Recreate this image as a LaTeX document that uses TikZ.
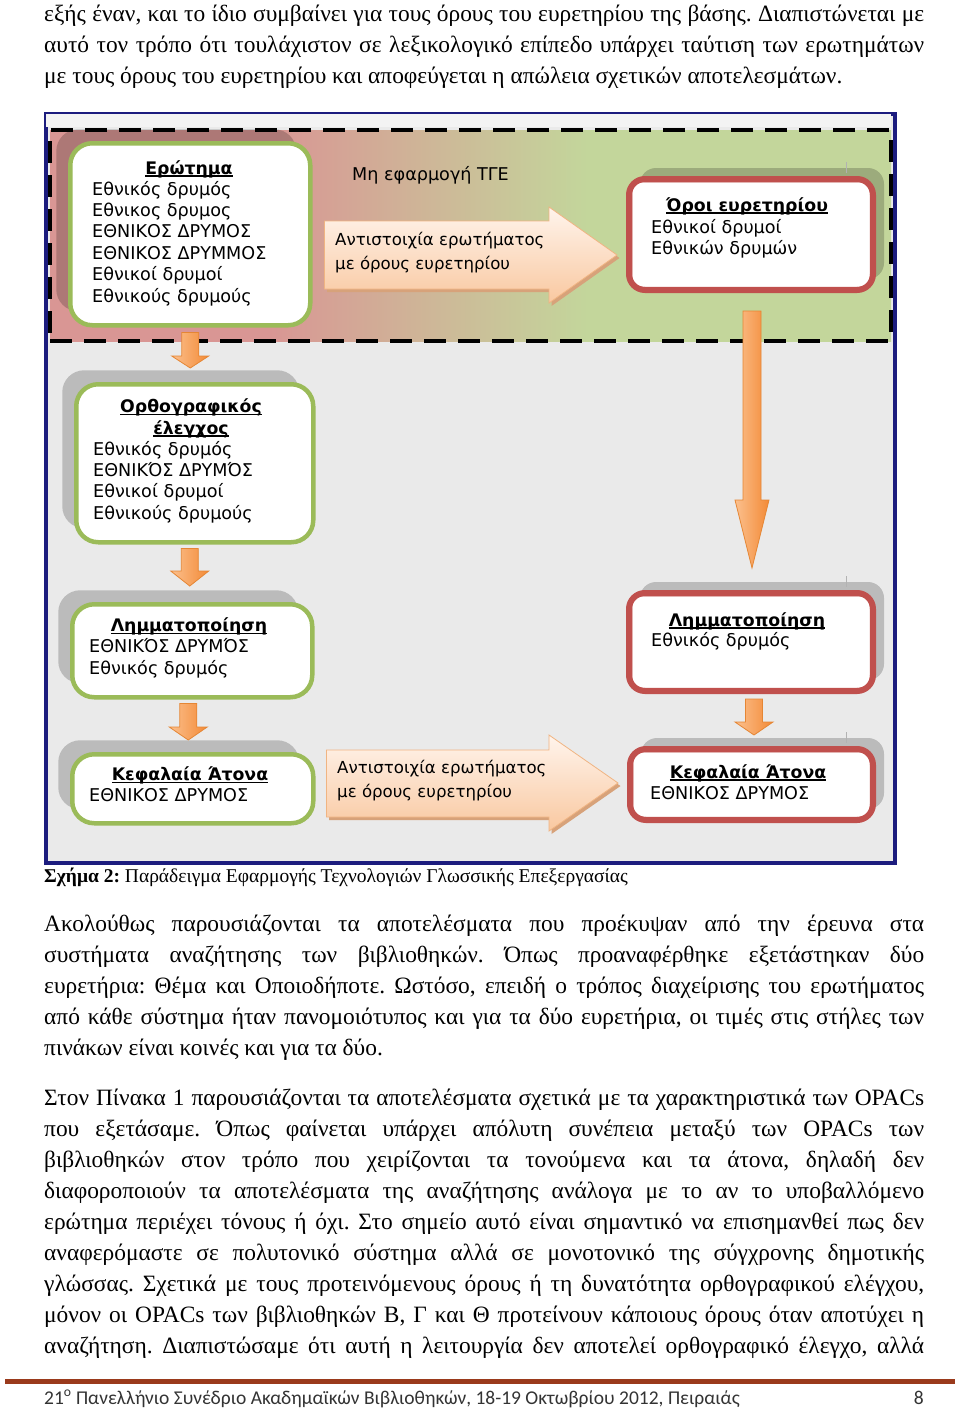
\documentclass[tikz,border=0pt]{standalone}
\usepackage{fontspec}
\setmainfont{Liberation Serif}
\newfontfamily\dvs{DejaVu Sans}
\newfontfamily\carl{Carlito}
\usetikzlibrary{calc}
\frenchspacing
\definecolor{rose}{HTML}{D99694}
\definecolor{olivel}{HTML}{C3D69B}
\definecolor{gborder}{HTML}{9BBB59}
\definecolor{rborder}{HTML}{C0504D}
\definecolor{navyf}{HTML}{1C1C7E}
\definecolor{inbg}{HTML}{EAEAEA}
\definecolor{stripc}{HTML}{F3F3F3}
\definecolor{orL}{HTML}{FBC08E}
\definecolor{orR}{HTML}{F38A36}
\definecolor{orD}{HTML}{E58634}
\definecolor{peT}{HTML}{FFF4EC}
\definecolor{peB}{HTML}{F9C8A0}
\definecolor{peD}{HTML}{F0B482}
\definecolor{peS}{HTML}{D7A27A}
\definecolor{footc}{HTML}{9A3A1C}
\definecolor{foottxt}{HTML}{333333}
\pgfdeclarehorizontalshading{topband}{100bp}{color(0bp)=(rose); color(38bp)=(rose); color(57bp)=(olivel); color(100bp)=(olivel)}
\newcommand\myul[1]{\setbox0\hbox{\bfseries #1}\rlap{\rule[-2.6pt]{\wd0}{1.3pt}}\box0}
\newcommand\jline[1]{\makebox[880pt][s]{#1}}
\newcommand\dnarrow[5]{\path[orng] let \p1=(#1), \p2=(#2) in (\x1-#5pt,\y1) -- (\x1+#5pt,\y1) -- (\x1+#5pt,\y2+#3pt) -- (\x1+#4pt,\y2+#3pt) -- (\x1,\y2) -- (\x1-#4pt,\y2+#3pt) -- (\x1-#5pt,\y2+#3pt) -- cycle;}
\tikzset{
 ptxt/.style={anchor=base west, inner sep=0pt, font=\fontsize{23.4}{31}\selectfont\frenchspacing},
 captxt/.style={anchor=base west, inner sep=0pt, font=\fontsize{19.5}{24}\selectfont},
 foot/.style={anchor=base west, inner sep=0pt, text=foottxt, font=\carl\fontsize{19.5}{24}\selectfont},
 btxt/.style={anchor=base west, inner sep=0pt, font=\dvs\fontsize{17.6}{21.4}\selectfont},
 atxt/.style={anchor=base west, inner sep=0pt, font=\dvs\fontsize{16.6}{21.4}\selectfont},
 ttl/.style={anchor=base, inner sep=0pt, font=\dvs\fontsize{17.3}{21.4}\selectfont},
 gbox/.style={draw=gborder, line width=4.5pt, fill=white, rounded corners=22pt, anchor=north west, inner sep=0pt,
   preaction={fill=black, opacity=0.2, draw=none, transform canvas={shift={(-14pt,14pt)}}}},
 rbox/.style={draw=rborder, line width=6pt, fill=white, rounded corners=16pt, anchor=north west, inner sep=0pt,
   preaction={fill=black, opacity=0.2, draw=none, transform canvas={shift={(11pt,11pt)}}}},
 rinner/.style={draw=rborder, line width=1.5pt, rounded corners=11pt},
 seam/.style={draw=black!30, line width=0.8pt},
 orng/.style={left color=orL, right color=orR, draw=orD, line width=0.8pt},
 peach/.style={top color=peT, bottom color=peB, draw=peD, line width=0.8pt,
   preaction={fill=peS, draw=none, transform canvas={shift={(2.5pt,-3pt)}}}},
 bandbox/.style={shading=topband, draw=black, line width=4pt, dash pattern=on 22pt off 12pt, anchor=north west, inner sep=0pt},
}
\begin{document}
\begin{tikzpicture}[x=1pt,y=-1pt]
\useasboundingbox (0,0) rectangle (960,1409);
\fill[white] (0,0) rectangle (960,1409);
% text above
\node[ptxt] (p1a) at (44,21.5) {\jline{εξής έναν, και το ίδιο συμβαίνει για τους όρους του ευρετηρίου της βάσης. Διαπιστώνεται με}};
\node[ptxt] (p1b) at (44,52.5) {\jline{αυτό τον τρόπο ότι τουλάχιστον σε λεξικολογικό επίπεδο υπάρχει ταύτιση των ερωτημάτων}};
\node[ptxt] (p1c) at (44,83.5) {με τους όρους του ευρετηρίου και αποφεύγεται η απώλεια σχετικών αποτελεσμάτων.};
% frame
\node[draw=navyf, line width=4pt, fill=inbg, minimum width=849, minimum height=749, anchor=north west, inner sep=0pt] (frame) at (44,112) {};
\fill[stripc] (46,114) rectangle (891,127);
\node[bandbox, minimum width=841, minimum height=211] (band) at (48,128) {};
% boxes
\node[gbox, minimum width=240, minimum height=182] (q) at (68,141) {};
\node[gbox, minimum width=237, minimum height=158] (o) at (74,382) {};
\node[gbox, minimum width=240, minimum height=93] (ll) at (70,602) {};
\node[gbox, minimum width=241, minimum height=69] (k) at (70,752) {};
\node[rbox, minimum width=244, minimum height=111] (r1) at (626,176) {};
\node[rbox, minimum width=244, minimum height=98] (r2) at (626,590) {};
\node[rbox, minimum width=243, minimum height=71] (r3) at (627,746) {};
\foreach \r in {r1,r2,r3}{
  \draw[rinner] ($(\r.north west)+(5.5,5.5)$) rectangle ($(\r.south east)+(-5.5,-5.5)$);
  \draw[seam] ($(\r.north east)+(-30,-14)$) -- ($(\r.north east)+(-30,-3)$);
}
% box texts
\node[ttl] (qT) at (189,174) {\myul{Ερώτημα}};
\foreach \t [count=\i from 0] in {Εθνικός δρυμός, Εθνικος δρυμος, ΕΘΝΙΚΟΣ ΔΡΥΜΟΣ, ΕΘΝΙΚΟΣ ΔΡΥΜΜΟΣ, Εθνικοί δρυμοί, Εθνικούς δρυμούς}
  \node[btxt] (q\i) at (92,{195+21.4*\i}) {\t};
\node[ttl] (oT1) at (191,412.5) {\myul{Ορθογραφικός}};
\node[ttl] (oT2) at (191,434) {\myul{έλεγχος}};
\foreach \t [count=\i from 0] in {Εθνικός δρυμός, ΕΘΝΙΚΌΣ ΔΡΥΜΌΣ, Εθνικοί δρυμοί, Εθνικούς δρυμούς}
  \node[btxt] (o\i) at (93,{455+21.4*\i}) {\t};
\node[ttl] (llT) at (189,631.5) {\myul{Λημματοποίηση}};
\node[btxt] (ll0) at (89,652.5) {ΕΘΝΙΚΌΣ ΔΡΥΜΌΣ};
\node[btxt] (ll1) at (89,674) {Εθνικός δρυμός};
\node[ttl] (kT) at (190,780.5) {\myul{Κεφαλαία Άτονα}};
\node[btxt] (k0) at (89,801.5) {ΕΘΝΙΚΟΣ ΔΡΥΜΟΣ};
\node[ttl] (r1T) at (747,211) {\myul{Όροι ευρετηρίου}};
\node[btxt] (r1a) at (651,233) {Εθνικοί δρυμοί};
\node[btxt] (r1b) at (651,254) {Εθνικών δρυμών};
\node[ttl] (r2T) at (747,626) {\myul{Λημματοποίηση}};
\node[btxt] (r2a) at (651,646) {Εθνικός δρυμός};
\node[ttl] (r3T) at (748,778) {\myul{Κεφαλαία Άτονα}};
\node[btxt] (r3a) at (650,799) {ΕΘΝΙΚΟΣ ΔΡΥΜΟΣ};
% orange arrows
\dnarrow{$(q.south)+(0,5)$}{$(o.north)+(0,-14)$}{12}{18.5}{8.5}
\dnarrow{$(o.south)+(-5,4)$}{$(ll.north)+(0,-16)$}{15}{19}{8.5}
\dnarrow{$(ll.south)+(-4,4)$}{$(k.north)+(0,-12)$}{13}{19}{8.5}
\dnarrow{$(r1.south)+(1,18)$}{$(r2.north)+(0,-22)$}{68}{17}{9}
\dnarrow{$(r2.south)+(3,5)$}{$(r3.north)+(0,-11)$}{13}{19}{8.5}
% peach block arrows
\coordinate (s1) at ($(q.east)+(12,0)$);
\coordinate (e1) at ($(r1.west)+(-9,0)$);
\path[peach] (s1 |- 0,221) -- (549,221) -- (549,207) -- (e1 |- 0,255) -- (549,303) -- (549,289) -- (s1 |- 0,289) -- cycle;
\coordinate (s2) at ($(k.east)+(11,0)$);
\coordinate (e2) at ($(r3.west)+(-9,0)$);
\path[peach] (s2 |- 0,750) -- (549,750) -- (549,735) -- (e2 |- 0,783) -- (549,831) -- (549,817) -- (s2 |- 0,817) -- cycle;
\node[btxt] (tge) at (352,180) {Μη εφαρμογή ΤΓΕ};
\node[atxt] (a1a) at (335,245) {Αντιστοιχία ερωτήματος};
\node[atxt] (a1b) at (335,269.5) {με όρους ευρετηρίου};
\node[atxt] (a2a) at (337,773) {Αντιστοιχία ερωτήματος};
\node[atxt] (a2b) at (337,797.5) {με όρους ευρετηρίου};
% caption
\node[captxt] (cap) at (44,882.5) {\textbf{Σχήμα 2:} Παράδειγμα Εφαρμογής Τεχνολογιών Γλωσσικής Επεξεργασίας};
% paragraph 2
\node[ptxt] (p2a) at (44,931.5) {\jline{Ακολούθως παρουσιάζονται τα αποτελέσματα που προέκυψαν από την έρευνα στα}};
\node[ptxt] (p2b) at (44,962.5) {\jline{συστήματα αναζήτησης των βιβλιοθηκών. Όπως προαναφέρθηκε εξετάστηκαν δύο}};
\node[ptxt] (p2c) at (44,993.5) {\jline{ευρετήρια: Θέμα και Οποιοδήποτε. Ωστόσο, επειδή ο τρόπος διαχείρισης του ερωτήματος}};
\node[ptxt] (p2d) at (44,1024.5) {\jline{από κάθε σύστημα ήταν πανομοιότυπος και για τα δύο ευρετήρια, οι τιμές στις στήλες των}};
\node[ptxt] (p2e) at (44,1055.5) {πινάκων είναι κοινές και για τα δύο.};
% paragraph 3
\node[ptxt] (p3a) at (44,1105.5) {\jline{Στον Πίνακα 1 παρουσιάζονται τα αποτελέσματα σχετικά με τα χαρακτηριστικά των OPACs}};
\node[ptxt] (p3b) at (44,1136.5) {\jline{που εξετάσαμε. Όπως φαίνεται υπάρχει απόλυτη συνέπεια μεταξύ των OPACs των}};
\node[ptxt] (p3c) at (44,1167.5) {\jline{βιβλιοθηκών στον τρόπο που χειρίζονται τα τονούμενα και τα άτονα, δηλαδή δεν}};
\node[ptxt] (p3d) at (44,1198.5) {\jline{διαφοροποιούν τα αποτελέσματα της αναζήτησης ανάλογα με το αν το υποβαλλόμενο}};
\node[ptxt] (p3e) at (44,1229.5) {\jline{ερώτημα περιέχει τόνους ή όχι. Στο σημείο αυτό είναι σημαντικό να επισημανθεί πως δεν}};
\node[ptxt] (p3f) at (44,1260.5) {\jline{αναφερόμαστε σε πολυτονικό σύστημα αλλά σε μονοτονικό της σύγχρονης δημοτικής}};
\node[ptxt] (p3g) at (44,1291.5) {\jline{γλώσσας. Σχετικά με τους προτεινόμενους όρους ή τη δυνατότητα ορθογραφικού ελέγχου,}};
\node[ptxt] (p3h) at (44,1322.5) {\jline{μόνον οι OPACs των βιβλιοθηκών Β, Γ και Θ προτείνουν κάποιους όρους όταν αποτύχει η}};
\node[ptxt] (p3i) at (44,1353.5) {\jline{αναζήτηση. Διαπιστώσαμε ότι αυτή η λειτουργία δεν αποτελεί ορθογραφικό έλεγχο, αλλά}};
% footer
\draw[footc, line width=5pt] (5,1381) -- (955,1381);
\node[foot] (ft) at (44,1404) {21\textsuperscript{ο} Πανελλήνιο Συνέδριο Ακαδημαϊκών Βιβλιοθηκών, 18-19 Οκτωβρίου 2012, Πειραιάς};
\node[foot, anchor=base east] (pg) at (924,1404) {8};
\end{tikzpicture}
\end{document}
